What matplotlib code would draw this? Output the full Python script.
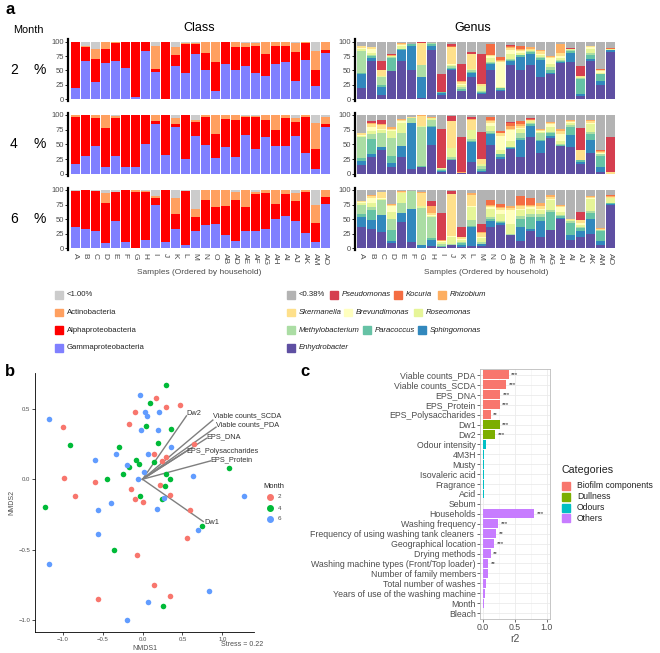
import matplotlib
matplotlib.use("Agg")
import matplotlib.pyplot as plt
from matplotlib.patches import Rectangle
import numpy as np

plt.rcParams['font.family'] = ['Liberation Sans', 'DejaVu Sans']

W, H = 660, 653

samples = ['A', 'B', 'C', 'D', 'E', 'F', 'G', 'H', 'I', 'J', 'K', 'L', 'M', 'N', 'O',
           'AB', 'AD', 'AE', 'AF', 'AG', 'AH', 'AI', 'AJ', 'AK', 'AM', 'AO']
months = ['2', '4', '6']

# class stack order bottom -> top
class_names = ['Gammaproteobacteria', 'Alphaproteobacteria', 'Actinobacteria', '<1.00%']
class_colors = ['#8080FF', '#FF0000', '#FFA060', '#CCCCCC']

class_m2 = [[19, 80, 0, 1], [66, 25, 2, 7], [30, 40, 17, 13], [63, 25, 11, 1], [66, 31, 3, 0],
            [54, 45, 1, 0], [4, 95, 0, 1], [84, 16, 0, 0], [48, 4, 41, 7], [0, 99, 0, 1],
            [57, 19, 15, 9], [46, 49, 2, 3], [78, 17, 2, 3], [50, 31, 19, 0], [15, 49, 36, 0],
            [62, 38, 0, 0], [50, 41, 9, 0], [58, 32, 7, 3], [45, 48, 5, 2], [40, 39, 21, 0],
            [62, 31, 7, 0], [65, 28, 6, 1], [31, 51, 15, 3], [68, 29, 2, 1], [23, 27, 34, 16],
            [80, 5, 15, 0]]
class_m4 = [[16, 80, 4, 0], [31, 69, 0, 0], [48, 46, 6, 0], [11, 67, 22, 0], [31, 63, 4, 2],
            [11, 89, 0, 0], [12, 88, 0, 0], [51, 49, 0, 0], [84, 6, 10, 0], [32, 68, 0, 0],
            [80, 4, 10, 6], [25, 75, 0, 0], [64, 24, 4, 8], [49, 48, 3, 0], [27, 40, 33, 0],
            [46, 47, 7, 0], [28, 64, 8, 0], [66, 30, 2, 2], [43, 54, 1, 2], [62, 30, 8, 0],
            [47, 28, 25, 0], [47, 48, 5, 0], [65, 23, 6, 6], [35, 62, 3, 0], [8, 34, 44, 14],
            [79, 5, 12, 4]]
class_m6 = [[37, 61, 0, 2], [33, 67, 0, 0], [29, 70, 0, 1], [9, 69, 17, 5], [46, 51, 0, 3],
            [11, 89, 0, 0], [1, 96, 3, 0], [14, 82, 3, 1], [74, 13, 2, 11], [11, 89, 0, 0],
            [33, 26, 28, 13], [6, 93, 0, 1], [29, 25, 13, 33], [40, 43, 17, 0], [41, 29, 30, 0],
            [22, 51, 27, 0], [13, 70, 13, 4], [30, 40, 30, 0], [30, 63, 3, 4], [33, 61, 6, 0],
            [51, 25, 24, 0], [56, 37, 7, 0], [47, 34, 14, 5], [26, 70, 4, 0], [10, 34, 30, 26],
            [76, 12, 12, 0]]

# genus stack order bottom -> top
genus_names = ['Enhydrobacter', 'Sphingomonas', 'Paracoccus', 'Methylobacterium', 'Roseomonas',
               'Brevundimonas', 'Skermanella', 'Rhizobium', 'Kocuria', 'Pseudomonas', '<0.38%']
genus_colors = ['#5E4FA2', '#3288BD', '#66C2A5', '#ABDDA4', '#E6F598', '#FFFFBF',
                '#FEE08B', '#FDAE61', '#F46D43', '#D53E4F', '#B3B3B3']

genus_m2 = [[19, 24, 2, 39, 4, 1, 3, 0, 0, 0, 8], [67, 5, 3, 2, 3, 8, 2, 0, 0, 0, 10],
            [8, 13, 3, 15, 2, 0, 10, 0, 0, 16, 33], [49, 0, 23, 2, 1, 0, 0, 1, 0, 3, 21],
            [66, 19, 2, 1, 4, 2, 2, 2, 0, 0, 2], [51, 42, 2, 0, 0, 0, 0, 0, 0, 1, 4],
            [2, 37, 0, 21, 0, 0, 37, 0, 0, 3, 0], [85, 8, 2, 2, 1, 0, 0, 0, 0, 0, 2],
            [8, 3, 1, 0, 0, 0, 0, 1, 0, 31, 56], [50, 2, 3, 2, 3, 1, 30, 0, 1, 3, 5],
            [14, 1, 3, 3, 4, 2, 3, 1, 0, 30, 39], [39, 6, 2, 3, 2, 0, 26, 1, 0, 3, 18],
            [10, 1, 1, 3, 8, 0, 3, 0, 0, 53, 21], [51, 10, 2, 1, 8, 3, 1, 0, 20, 0, 4],
            [14, 2, 3, 1, 2, 43, 1, 2, 6, 0, 26], [60, 6, 2, 2, 8, 8, 3, 2, 1, 2, 6],
            [50, 23, 3, 1, 4, 2, 3, 2, 5, 0, 7], [59, 20, 3, 1, 2, 1, 2, 2, 0, 0, 10],
            [39, 29, 3, 2, 4, 2, 4, 3, 0, 0, 14], [43, 3, 5, 5, 5, 10, 3, 1, 0, 0, 25],
            [63, 2, 2, 1, 4, 3, 5, 16, 0, 0, 4], [65, 16, 3, 1, 2, 0, 1, 0, 0, 1, 11],
            [5, 4, 27, 1, 1, 1, 1, 0, 0, 18, 42], [67, 2, 8, 3, 8, 2, 2, 1, 0, 0, 7],
            [24, 8, 11, 1, 2, 3, 1, 1, 2, 0, 47], [82, 3, 1, 0, 1, 0, 0, 1, 1, 0, 11]]
genus_m4 = [[15, 7, 5, 35, 2, 2, 3, 1, 0, 0, 30], [28, 5, 27, 8, 5, 7, 4, 3, 0, 3, 10],
            [40, 6, 0, 24, 4, 3, 6, 2, 0, 6, 9], [11, 7, 13, 30, 11, 2, 2, 3, 0, 0, 21],
            [29, 18, 1, 21, 18, 2, 2, 2, 0, 0, 7], [8, 79, 0, 7, 1, 0, 1, 0, 0, 1, 3],
            [11, 1, 2, 66, 1, 0, 17, 2, 0, 0, 0], [49, 31, 1, 11, 2, 0, 1, 1, 0, 1, 3],
            [4, 1, 2, 2, 1, 0, 0, 0, 0, 66, 24], [24, 0, 2, 3, 15, 0, 45, 1, 0, 8, 2],
            [2, 0, 0, 0, 0, 0, 0, 1, 0, 60, 37], [21, 33, 2, 3, 15, 1, 17, 1, 0, 4, 3],
            [4, 1, 3, 6, 2, 1, 8, 0, 0, 46, 29], [49, 18, 3, 2, 10, 5, 3, 2, 4, 0, 4],
            [26, 3, 4, 1, 7, 24, 4, 1, 3, 0, 27], [43, 1, 1, 1, 10, 18, 3, 5, 4, 2, 12],
            [28, 30, 3, 9, 6, 2, 3, 3, 6, 0, 10], [62, 19, 3, 2, 3, 1, 1, 1, 1, 2, 5],
            [35, 20, 2, 13, 1, 1, 3, 2, 0, 0, 23], [61, 3, 6, 1, 9, 5, 2, 1, 0, 0, 12],
            [47, 1, 1, 2, 5, 12, 5, 4, 0, 0, 23], [45, 21, 14, 3, 4, 1, 2, 2, 0, 0, 8],
            [16, 4, 3, 1, 0, 0, 16, 1, 0, 37, 22], [35, 23, 9, 4, 13, 3, 2, 2, 0, 0, 9],
            [4, 7, 20, 2, 1, 2, 2, 1, 2, 0, 59], [0, 0, 0, 0, 0, 0, 4, 0, 0, 58, 38]]
genus_m6 = [[37, 17, 4, 16, 3, 2, 2, 0, 0, 0, 19], [33, 16, 17, 4, 7, 9, 3, 2, 0, 0, 9],
            [28, 29, 0, 25, 3, 1, 10, 1, 0, 0, 3], [9, 3, 19, 20, 12, 9, 2, 2, 0, 0, 24],
            [45, 15, 1, 16, 17, 1, 1, 2, 0, 0, 2], [11, 56, 1, 30, 1, 0, 0, 0, 0, 0, 1],
            [1, 4, 1, 63, 3, 1, 21, 3, 0, 0, 3], [4, 10, 3, 37, 2, 1, 3, 12, 0, 9, 19],
            [3, 0, 1, 3, 4, 1, 1, 1, 0, 47, 39], [5, 0, 0, 2, 13, 1, 72, 0, 0, 6, 1],
            [2, 4, 3, 2, 4, 1, 3, 1, 0, 16, 64], [4, 32, 3, 10, 22, 1, 19, 3, 0, 0, 6],
            [4, 3, 1, 2, 7, 2, 7, 2, 0, 13, 59], [37, 9, 5, 2, 14, 3, 2, 2, 9, 0, 17],
            [40, 3, 2, 1, 13, 7, 3, 2, 5, 0, 24], [22, 0, 1, 1, 17, 25, 3, 3, 0, 0, 28],
            [13, 24, 13, 5, 10, 2, 5, 3, 14, 0, 11], [30, 3, 20, 5, 10, 2, 2, 2, 12, 0, 14],
            [20, 26, 8, 4, 8, 2, 4, 5, 0, 0, 23], [31, 0, 31, 3, 17, 3, 3, 3, 0, 0, 9],
            [50, 2, 4, 1, 5, 8, 2, 2, 0, 0, 26], [15, 8, 20, 3, 2, 1, 1, 0, 0, 0, 50],
            [19, 10, 6, 2, 3, 4, 4, 1, 0, 14, 37], [25, 26, 9, 4, 20, 2, 2, 2, 0, 0, 10],
            [6, 6, 17, 2, 1, 0, 1, 1, 0, 0, 66], [75, 1, 1, 1, 8, 1, 1, 1, 2, 1, 8]]

# NMDS scores by month
nmds_m2_x = [0.17, 0.47, 0.30, -0.09, -0.17, -1.00, 0.64, 0.15, 0.25, 0.30, -0.98, -0.60, 0.22,
             -0.15, 0.35, -0.84, -0.09, 0.00, 0.60, 0.56, -0.07, 0.15, 0.35, -0.56]
nmds_m2_y = [0.58, 0.53, 0.51, 0.48, 0.39, 0.37, 0.25, 0.18, 0.13, 0.16, 0.01, -0.02, -0.04,
             -0.07, -0.11, -0.12, -0.14, -0.16, -0.22, -0.42, -0.54, -0.75, -0.83, -0.85]
nmds_m4_x = [0.30, 0.09, 0.05, 0.36, 0.20, -0.91, -0.30, 0.15, -0.08, -0.04, -0.17, -0.25,
             -0.45, 0.30, 0.34, 0.28, -0.03, 0.25, 1.08, -1.22, 0.75, -0.36, 0.26]
nmds_m4_y = [0.67, 0.54, 0.38, 0.36, 0.26, 0.24, 0.23, 0.12, 0.14, 0.11, 0.09, 0.04,
             0.00, 0.04, 0.00, -0.05, -0.12, -0.14, 0.08, -0.20, -0.33, -0.50, -0.90]
nmds_m6_x = [-0.03, -1.17, 0.03, 0.06, 0.21, -0.02, 0.19, 0.36, 0.07, -0.33, -0.59, -0.20, 0.02,
             -0.06, 0.63, 1.27, -0.40, -0.56, 0.18, 0.27, -0.56, 0.69, -1.17, 0.83, 0.07, -0.20]
nmds_m6_y = [0.60, 0.43, 0.48, 0.45, 0.48, 0.35, 0.35, 0.23, 0.18, 0.18, 0.14, 0.10, 0.05,
             0.00, 0.02, -0.12, -0.17, -0.22, -0.21, -0.13, -0.39, -0.36, -0.60, -0.79, -0.87, -1.00]

vec_names = ['Dw2', 'Viable counts_SCDA', 'Viable counts_PDA', 'EPS_DNA',
             'EPS_Polysaccharides', 'EPS_Protein', 'Dw1']
vec_x = [0.55, 0.88, 0.92, 0.80, 0.55, 0.85, 0.76]
vec_y = [0.45, 0.42, 0.37, 0.29, 0.20, 0.13, -0.30]
lab_x = [0.55, 0.88, 0.92, 0.80, 0.55, 0.85, 0.77]
lab_y = [0.465, 0.45, 0.385, 0.30, 0.20, 0.14, -0.31]

# envfit r2 (panel c)
fit_vars = ['Viable counts_PDA', 'Viable counts_SCDA', 'EPS_DNA', 'EPS_Protein', 'EPS_Polysaccharides',
            'Dw1', 'Dw2', 'Odour intensity', '4M3H', 'Musty', 'Isovaleric acid', 'Fragrance', 'Acid',
            'Sebum', 'Households', 'Washing frequency', 'Frequency of using washing tank cleaners ',
            'Geographical location', 'Drying methods', 'Washing machine types (Front/Top loader)',
            'Number of family members', 'Total number of washes', 'Years of use of the washing machine',
            'Month', 'Bleach']
fit_r2 = [0.40, 0.36, 0.27, 0.26, 0.12, 0.26, 0.19, 0.04, 0.015, 0.015, 0.006, 0.006, 0.006,
          0.004, 0.80, 0.24, 0.20, 0.17, 0.12, 0.08, 0.08, 0.04, 0.03, 0.006, 0.004]
fit_sig = ['***', '***', '***', '***', '**', '***', '***', '', '', '', '', '', '', '',
           '***', '***', '**', '***', '**', '**', '', '', '', '', '']
fit_cat = ['Biofilm components'] * 5 + ['Dullness'] * 2 + ['Odours'] * 7 + ['Others'] * 11
cat_names = ['Biofilm components', 'Dullness', 'Odours', 'Others']
cat_colors = ['#F8766D', '#7CAE00', '#00BFC4', '#C77CFF']

TXT = '#4D4D4D'


def px_axes(fig, left, top, right, bottom):
    return fig.add_axes([left / W, 1 - bottom / H, (right - left) / W, (bottom - top) / H])


def stacked(ax, rows, colors, last):
    arr = np.array(rows, dtype=float)
    x = np.arange(len(samples))
    base = np.zeros(len(samples))
    for k in range(arr.shape[1]):
        ax.bar(x, arr[:, k], bottom=base, width=0.9, color=colors[k], linewidth=0)
        base += arr[:, k]
    ax.set_xlim(-0.7, len(samples) - 0.3)
    ax.set_ylim(-3, 104)
    ax.set_yticks([0, 25, 50, 75, 100])
    ax.tick_params(axis='y', labelsize=5.5, labelcolor=TXT, length=2, width=0.6, pad=1)
    for s in ['top', 'right', 'bottom']:
        ax.spines[s].set_visible(False)
    ax.spines['left'].set_linewidth(1.6)
    ax.set_xticks(np.arange(len(samples)))
    if last:
        ax.set_xticklabels(samples, rotation=-90, fontsize=6, color=TXT)
        ax.tick_params(axis='x', length=0, pad=2)
    else:
        ax.set_xticklabels([])
        ax.tick_params(axis='x', length=0)


fig = plt.figure(figsize=(W / 100, H / 100), dpi=100)

rows_px = [(39.3, 101), (112.6, 175.7), (187.6, 250)]
class_data = [class_m2, class_m4, class_m6]
genus_data = [genus_m2, genus_m4, genus_m6]
for i, (top, bot) in enumerate(rows_px):
    axc = px_axes(fig, 68, top, 332, bot)
    stacked(axc, class_data[i], class_colors, i == 2)
    axg = px_axes(fig, 355, top, 617, bot)
    stacked(axg, genus_data[i], genus_colors, i == 2)
    yc = 1 - (top + bot) / 2 / H
    fig.text(14 / W, yc, months[i], fontsize=10, ha='center', va='center')
    fig.text(40 / W, yc, '%', fontsize=10, ha='center', va='center')

fig.text(5 / W, 1 - 10 / H, 'a', fontsize=12, fontweight='bold', va='center')
fig.text(28 / W, 1 - 30 / H, 'Month', fontsize=7.8, ha='center', va='center')
fig.text(199 / W, 1 - 28 / H, 'Class', fontsize=9, ha='center', va='center')
fig.text(473 / W, 1 - 28 / H, 'Genus', fontsize=9, ha='center', va='center')
fig.text(199 / W, 1 - 273 / H, 'Samples (Ordered by household)', fontsize=6, color=TXT,
         ha='center', va='center')
fig.text(486 / W, 1 - 273 / H, 'Samples (Ordered by household)', fontsize=6, color=TXT,
         ha='center', va='center')


def legend_key(x, y, color, label, italic=False, size=5.6, box=7.5, gap=4.5):
    fig.patches.append(Rectangle((x / W, 1 - (y + box / 2) / H), box / W, box / H,
                                 color=color, transform=fig.transFigure, figure=fig))
    fig.text((x + box + gap) / W, 1 - y / H, label, fontsize=size, va='center',
             style='italic' if italic else 'normal', color='#222222')


# class legend (top -> bottom is reverse stack)
for j, idx in enumerate([3, 2, 1, 0]):
    legend_key(55, 295 + j * 17.6, class_colors[idx], class_names[idx])

# genus legend, flowing rows
genus_rows = [[(287, 10), (330, 9), (394, 8), (438, 7)],
              [(287, 6), (344, 5), (414, 4)],
              [(287, 3), (363, 2), (418, 1)],
              [(287, 0)]]
for r, row in enumerate(genus_rows):
    for xk, idx in row:
        legend_key(xk, 295 + r * 17.6, genus_colors[idx], genus_names[idx], italic=(idx != 10))

# ---------- panel b ----------
axb = px_axes(fig, 35, 373, 254, 632)
for xs, ys, col, m in [(nmds_m2_x, nmds_m2_y, '#F8766D', '2'),
                       (nmds_m4_x, nmds_m4_y, '#00BA38', '4'),
                       (nmds_m6_x, nmds_m6_y, '#619CFF', '6')]:
    axb.scatter(xs, ys, s=16, color=col, linewidths=0, label=m, zorder=3)
for name, vx, vy, tx, ty in zip(vec_names, vec_x, vec_y, lab_x, lab_y):
    axb.plot([0, vx], [0, vy], color='#7F7F7F', lw=1.0, zorder=2)
    axb.text(tx, ty, name, fontsize=5.3, color='#333333', ha='left', va='center', zorder=4)
axb.set_xlim(-1.345, 1.395)
axb.set_ylim(-1.084, 0.754)
axb.set_xticks([-1.0, -0.5, 0.0, 0.5, 1.0])
axb.set_yticks([-1.0, -0.5, 0.0, 0.5])
axb.tick_params(labelsize=4.3, labelcolor=TXT, length=2, width=0.5, pad=1.5)
for s in ['top', 'right']:
    axb.spines[s].set_visible(False)
for s in ['left', 'bottom']:
    axb.spines[s].set_linewidth(0.6)
axb.set_xlabel('NMDS1', fontsize=5, color=TXT, labelpad=2)
axb.set_ylabel('NMDS2', fontsize=5, color=TXT, labelpad=2)
fig.text(5 / W, 1 - 372 / H, 'b', fontsize=12, fontweight='bold', va='center')
fig.text(263 / W, 1 - 645 / H, 'Stress = 0.22', fontsize=5, color=TXT, ha='right', va='center')
fig.text(263 / W, 1 - 487 / H, 'Month', fontsize=5.4, color='#222222', va='center')
for j, (m, col) in enumerate(zip(months, ['#F8766D', '#00BA38', '#619CFF'])):
    fig.lines.append(plt.Line2D([270 / W], [1 - (497 + j * 11) / H], marker='o', markersize=4,
                                color=col, transform=fig.transFigure, figure=fig, linestyle='none'))
    fig.text(278 / W, 1 - (497 + j * 11) / H, m, fontsize=4.5, color=TXT, va='center')

# ---------- panel c ----------
axc2 = px_axes(fig, 480, 369, 550, 619)
ypos = np.arange(len(fit_vars))
bar_cols = [cat_colors[cat_names.index(c)] for c in fit_cat]
axc2.barh(ypos, fit_r2, height=0.9, color=bar_cols, zorder=3)
for yv, val, sig in zip(ypos, fit_r2, fit_sig):
    if sig:
        axc2.text(val + 0.04, yv, sig, fontsize=4.5, va='center', ha='left', color='#222222', zorder=4)
axc2.set_ylim(len(fit_vars) - 0.4, -0.6)
axc2.set_xlim(-0.05, 1.05)
axc2.set_yticks(ypos)
axc2.set_yticklabels(fit_vars, fontsize=6.3, color=TXT)
axc2.set_xticks([0.0, 0.5, 1.0])
axc2.set_xticklabels(['0.0', '0.5', '1.0'])
axc2.set_xticks([0.25, 0.75], minor=True)
axc2.tick_params(axis='both', labelsize=6.3, labelcolor=TXT, length=2, width=0.5, color='#333333', pad=1)
axc2.tick_params(axis='x', which='minor', length=0)
axc2.grid(True, which='major', color='#EBEBEB', lw=0.6, zorder=0)
axc2.grid(True, which='minor', axis='x', color='#F2F2F2', lw=0.4, zorder=0)
for s in axc2.spines.values():
    s.set_color('#BDBDBD')
    s.set_linewidth(0.6)
axc2.set_xlabel('r2', fontsize=7.5, color=TXT, labelpad=1)
fig.text(300 / W, 1 - 372 / H, 'c', fontsize=12, fontweight='bold', va='center')
fig.text(562 / W, 1 - 470 / H, 'Categories', fontsize=7.7, color='#222222', va='center')
for j, (cn, cc) in enumerate(zip(cat_names, cat_colors)):
    legend_key(562, 486 + j * 10.8, cc, cn, size=6.2, box=8, gap=7)

fig.savefig('out.png', dpi=100)
